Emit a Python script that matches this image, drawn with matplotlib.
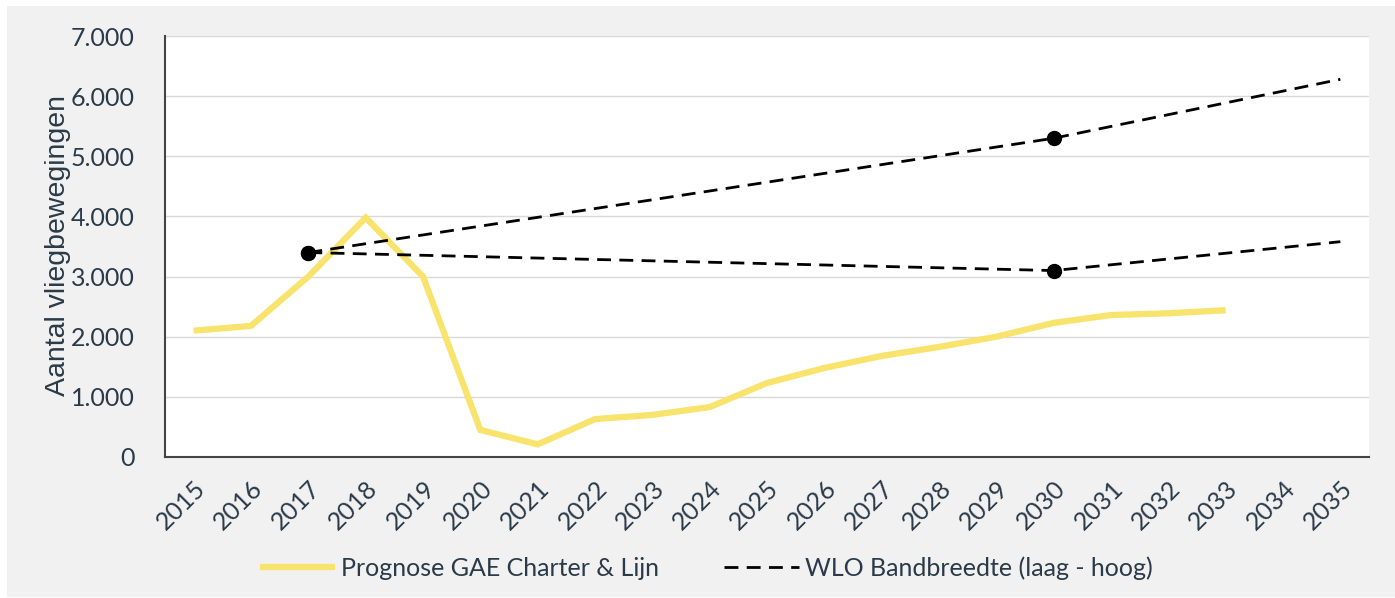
import matplotlib
matplotlib.use("Agg")
import matplotlib.pyplot as plt
from matplotlib.patches import Rectangle
from matplotlib.ticker import FuncFormatter

years = list(range(2015, 2036))
prog_years = list(range(2015, 2034))
prognose = [2100, 2180, 3000, 3980, 3000, 450, 210, 630, 700, 830, 1230,
            1480, 1680, 1830, 2000, 2230, 2360, 2390, 2440]
wlo_years = [2017, 2030, 2035]
wlo_hoog = [3400, 5300, 6280]
wlo_laag = [3400, 3100, 3580]
yticks = [0, 1000, 2000, 3000, 4000, 5000, 6000, 7000]

label_prog = "Prognose GAE Charter & Lijn"
label_wlo = "WLO Bandbreedte (laag - hoog)"
ylabel = "Aantal vliegbewegingen"

plt.rcParams['font.family'] = ['Lato', 'DejaVu Sans']
txt = '#2a3a48'
yellow = '#F8E36C'

W, H = 1395, 598
fig = plt.figure(figsize=(W / 100, H / 100), dpi=100, facecolor='white')
fig.patches.append(Rectangle((7 / W, 1 - 597 / H), (W - 7) / W, (597 - 6) / H,
                             transform=fig.transFigure, facecolor='#f1f1f1',
                             edgecolor='none', zorder=-10))

ax = fig.add_axes([165 / W, 1 - 457 / H, (1369 - 165) / W, (457 - 36) / H])
ax.set_facecolor('white')

ax.plot(prog_years, prognose, color=yellow, lw=4.5, solid_joinstyle='miter',
        solid_capstyle='butt', label=label_prog, zorder=3)
ax.plot(wlo_years, wlo_hoog, color='black', lw=2, dashes=(5, 3),
        marker='o', ms=10, markevery=[0, 1], label=label_wlo, zorder=4)
ax.plot(wlo_years, wlo_laag, color='black', lw=2, dashes=(5, 3),
        marker='o', ms=10, markevery=[0, 1], zorder=4)

ax.set_xlim(2014.5, 2035.5)
ax.set_ylim(0, 7000)
ax.set_yticks(yticks)
ax.yaxis.set_major_formatter(FuncFormatter(lambda v, p: f"{int(v):,}".replace(",", ".")))
ax.set_xticks(years)
ax.set_xticklabels([str(y) for y in years], rotation=45, ha='right',
                   rotation_mode='anchor')
ax.grid(axis='y', color='#d9d9d9', lw=1)
ax.set_axisbelow(True)
for s in ['top', 'right']:
    ax.spines[s].set_visible(False)
for s in ['left', 'bottom']:
    ax.spines[s].set_color('#444444')
    ax.spines[s].set_linewidth(1.5)
ax.tick_params(axis='both', length=0, colors=txt, labelsize=18)
ax.tick_params(axis='y', pad=22)
ax.tick_params(axis='x', pad=14)

fig.text(58 / W, 1 - 246 / H, ylabel, rotation=90, ha='center', va='center',
         color=txt, fontsize=20.5, family=['Liberation Sans', 'DejaVu Sans'])

handles, labels = ax.get_legend_handles_labels()
leg = fig.legend(handles, labels, loc='center', bbox_to_anchor=(0.5065, 0.05),
                 ncol=2, frameon=False, fontsize=18, handlelength=3,
                 columnspacing=2.6, handletextpad=0.25)
for h in leg.legend_handles:
    h.set_marker('')
for t in leg.get_texts():
    t.set_color(txt)

fig.savefig('out.png', dpi=100, facecolor=fig.get_facecolor())
